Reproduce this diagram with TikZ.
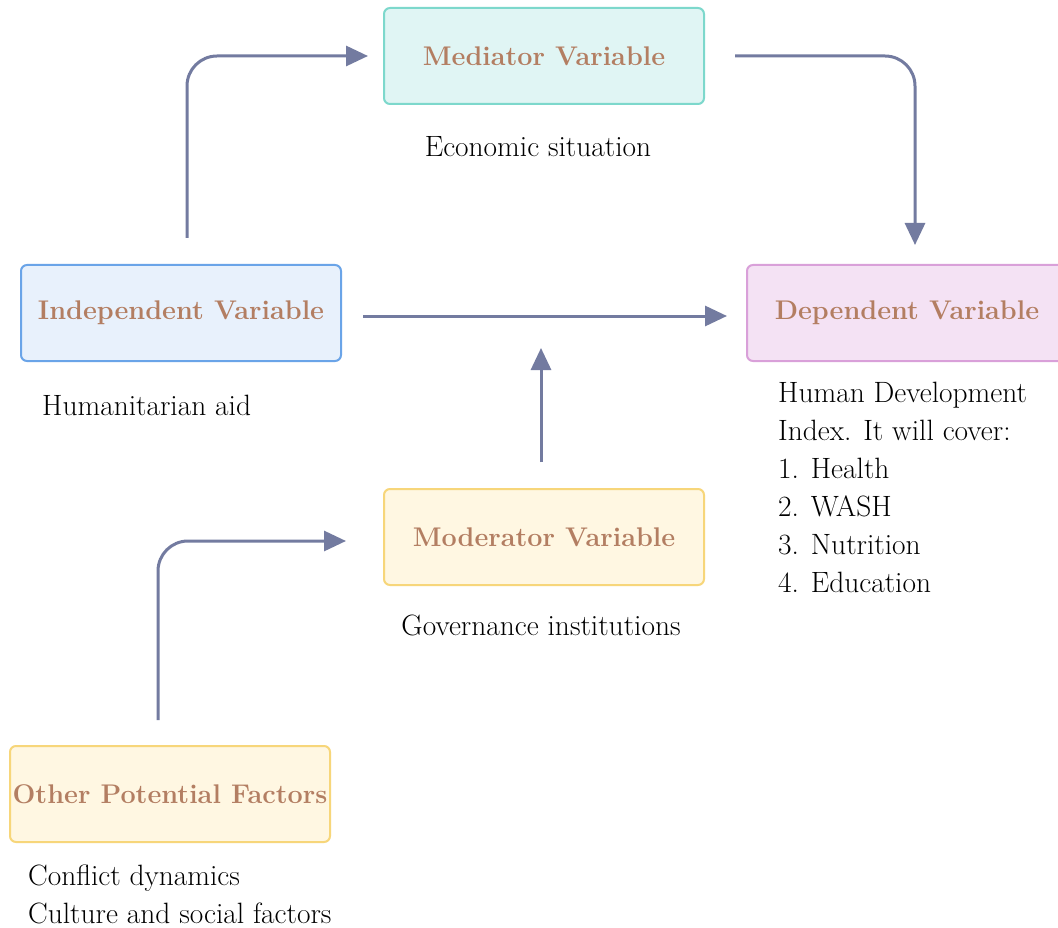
\documentclass[tikz,border=0pt]{standalone}
\usepackage{fontspec}
\usetikzlibrary{arrows.meta}

\definecolor{flowcol}{HTML}{737BA0}
\definecolor{titlecol}{HTML}{B37E62}
\definecolor{medfill}{HTML}{E0F5F4}
\definecolor{meddraw}{HTML}{7DD8CC}
\definecolor{indfill}{HTML}{E8F1FC}
\definecolor{inddraw}{HTML}{6AA4E8}
\definecolor{depfill}{HTML}{F4E2F4}
\definecolor{depdraw}{HTML}{D9A0D9}
\definecolor{modfill}{HTML}{FFF7E2}
\definecolor{moddraw}{HTML}{F7D67A}

\tikzset{
	box/.style={draw, line width=2pt, rounded corners=6pt, minimum width=320pt, minimum height=96pt,
		inner xsep=1pt, text=titlecol, font=\fontsize{27}{32}\selectfont\bfseries},
	note/.style={font=\fontsize{29.4}{38}\selectfont, inner sep=0pt, align=left},
	flow/.style={draw=flowcol, line width=3pt, rounded corners=30pt, -{Triangle[length=22pt,width=20pt]}}
}

\begin{document}
\begin{tikzpicture}[x=1pt, y=-1pt] % framework
		\clip (0,0) rectangle (1058,928);
		\fill[white] (0,0) rectangle (1058,928);

		\node[box, fill=medfill, draw=meddraw] (med) at (544,56) {Mediator Variable};
		\node[box, fill=indfill, draw=inddraw] (ind) at (181,313) {Independent Variable};
		\node[box, fill=depfill, draw=depdraw] (dep) at (907,313) {Dependent Variable};
		\node[box, fill=modfill, draw=moddraw] (mod) at (544,537) {Moderator Variable};
		\node[box, fill=modfill, draw=moddraw] (oth) at (170,794) {Other Potential Factors};

		\node[note] (econ) at (538,147) {Economic situation};
		\node[note, anchor=north west] (aid) at (42,395) {Humanitarian aid};
		\node[note, anchor=north west] (hdi) at (778,382) {Human Development\\Index. It will cover:\\1. Health\\2. WASH\\3. Nutrition\\4. Education};
		\node[note] (gov) at (541,625) {Governance institutions};
		\node[note, anchor=north west] (conf) at (28,865) {Conflict dynamics\\Culture and social factors};

		\coordinate (join) at (541,348);

		\draw[flow, shorten <=26pt, shorten >=15pt] ([xshift=6pt]ind.north) |- (med);
		\draw[flow, shorten <=30pt, shorten >=19pt] (med) -| ([xshift=8pt]dep.north);
		\draw[flow, shorten <=21pt, shorten >=19pt] ([yshift=-3pt]ind.east) -- ([yshift=-3pt]dep.west);
		\draw[flow, shorten <=26pt] (join |- mod.north) -- (join);
		\draw[flow, shorten <=25pt, shorten >=37pt] ([xshift=-12pt]oth.north) |- ([yshift=-4pt]mod.west);
\end{tikzpicture}
\end{document}
